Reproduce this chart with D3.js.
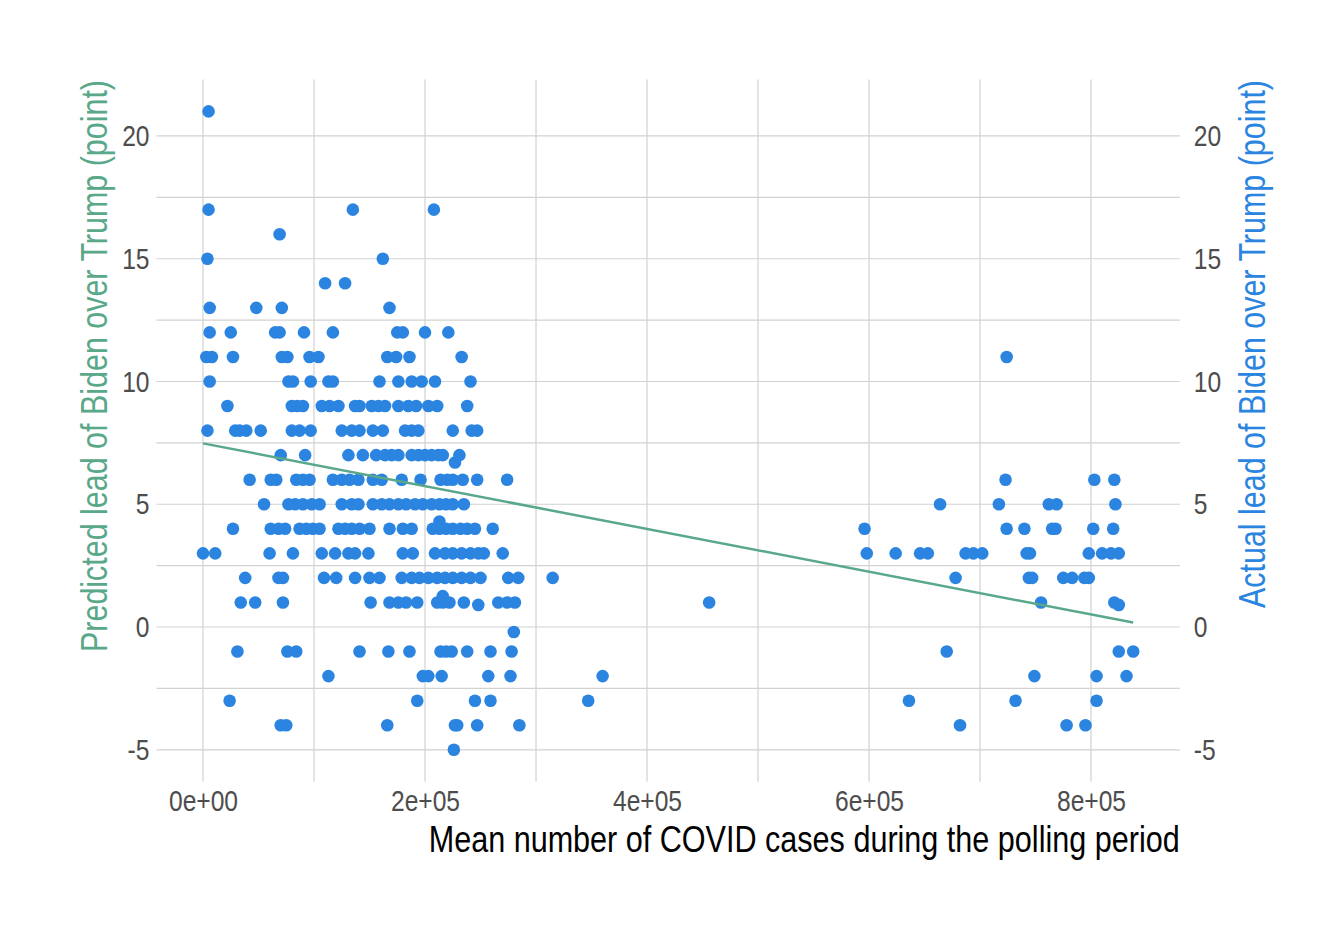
<!DOCTYPE html>
<html>
<head>
<meta charset="utf-8">
<script src="https://cdn.jsdelivr.net/npm/d3@7"></script>
<style>
  body { margin: 0; background: #fff; }
  svg text { font-family: "Liberation Sans Narrow", "Arial Narrow", "Liberation Sans", Arial, sans-serif; }
</style>
</head>
<body>
<svg id="chart" width="1344" height="940"></svg>
<script>

// Actual lead (points) and the mean COVID cases (in thousands) of each poll on that lead
var leadValues = [21, 17, 16, 15, 14, 13, 12, 11, 10, 9, 8, 7, 6.7, 6, 5, 4.3, 4, 3, 2, 1.26, 1, 0.9, -0.2, -1, -2, -3, -4, -5];
var casesByLead = [
    [5],
    [5, 135, 208],
    [69],
    [4, 162],
    [110, 128],
    [6, 48, 71, 168],
    [6, 25, 65, 69, 91, 117, 175, 180, 200, 221],
    [3, 8, 27, 71, 76, 96, 104, 166, 174, 186, 233, 724],
    [6, 77, 81, 97, 113, 117, 159, 176, 188, 197, 209, 241],
    [22, 80, 85, 90, 107, 114, 122, 137, 141, 152, 158, 164, 176, 185, 192, 203, 211, 238],
    [4, 29, 33, 39, 52, 80, 87, 97, 125, 134, 141, 153, 162, 182, 188, 194, 225, 242, 247],
    [70, 92, 131, 144, 156, 164, 170, 176, 188, 194, 200, 206, 212, 216, 231],
    [227],
    [42, 61, 66, 84, 90, 96, 117, 125, 132, 140, 153, 161, 179, 196, 214, 220, 225, 234, 247, 274, 723, 803, 821],
    [55, 77, 83, 90, 98, 105, 125, 134, 140, 153, 161, 168, 176, 183, 191, 198, 206, 213, 219, 225, 235, 664, 717, 762, 769, 822],
    [213],
    [27, 61, 68, 74, 87, 93, 99, 105, 122, 128, 134, 141, 150, 168, 180, 188, 207, 213, 219, 225, 232, 238, 245, 261, 596, 724, 740, 765, 768, 802, 820],
    [0, 11, 60, 81, 107, 119, 131, 137, 149, 180, 189, 209, 218, 225, 233, 241, 248, 253, 270, 598, 624, 646, 653, 687, 694, 702, 742, 745, 798, 810, 818, 825],
    [38, 68, 72, 109, 120, 137, 150, 159, 179, 188, 195, 203, 211, 218, 225, 233, 241, 250, 275, 284, 315, 678, 744, 747, 775, 783, 794, 798],
    [216],
    [34, 47, 72, 151, 168, 176, 183, 193, 211, 216, 222, 235, 266, 274, 281, 456, 755, 821],
    [248, 825],
    [280],
    [31, 76, 84, 141, 167, 186, 214, 219, 224, 238, 259, 278, 670, 825, 838],
    [113, 198, 203, 215, 257, 277, 360, 749, 805, 832],
    [24, 193, 245, 259, 347, 636, 732, 805],
    [70, 75, 166, 227, 229, 247, 285, 682, 778, 795],
    [226]
];

// Fitted line (predicted lead)
var fitCases = [0, 838000];
var fitLead = [7.48, 0.18];

// Ticks
var xTicks = [0, 200000, 400000, 600000, 800000];
var xTickLabels = ["0e+00", "2e+05", "4e+05", "6e+05", "8e+05"];
var xMinorTicks = [100000, 300000, 500000, 700000];
var yTicks = [-5, 0, 5, 10, 15, 20];
var yMinorTicks = [-2.5, 2.5, 7.5, 12.5, 17.5];

var pointColor = "#2b85e0";
var lineColor = "#5aa88a";
var gridColor = "#d2d2d2";
var tickColor = "#4d4d4d";

// No narrow font installed, so squeeze the regular one
var narrow = 0.82;

// Flatten the data
var polls = [];
leadValues.forEach(function(lead, i){
    casesByLead[i].forEach(function(c){
        polls.push({cases: c * 1000, lead: lead});
    });
});

var svg = d3.select("#chart");
svg.append("rect").attr("width", 1344).attr("height", 940).attr("fill", "#fff");

// Scales (ggplot style 5% expansion)
var x = d3.scaleLinear().domain([-41900, 879900]).range([156.5, 1179.7]);
var y = d3.scaleLinear().domain([-6.3, 22.3]).range([781.7, 79.5]);

var grid = svg.append("g");

// Vertical grid lines
grid.selectAll(".vgrid")
    .data(xTicks.concat(xMinorTicks))
    .enter().append("line")
    .attr("x1", function(d){ return x(d); })
    .attr("x2", function(d){ return x(d); })
    .attr("y1", y.range()[1])
    .attr("y2", y.range()[0])
    .attr("stroke", gridColor)
    .attr("stroke-width", 1.2);

// Horizontal grid lines
grid.selectAll(".hgrid")
    .data(yTicks.concat(yMinorTicks))
    .enter().append("line")
    .attr("x1", x.range()[0])
    .attr("x2", x.range()[1])
    .attr("y1", function(d){ return y(d); })
    .attr("y2", function(d){ return y(d); })
    .attr("stroke", gridColor)
    .attr("stroke-width", 1.2);

// Axes (labels only)
var plainNumber = function(d){ return String(d); };

var xAxis = svg.append("g")
    .attr("transform", "translate(0," + 781.7 + ")")
    .call(d3.axisBottom(x).tickValues(xTicks).tickSize(0).tickPadding(8)
        .tickFormat(function(d, i){ return xTickLabels[i]; }));

var yAxisLeft = svg.append("g")
    .attr("transform", "translate(" + 156.5 + ",0)")
    .call(d3.axisLeft(y).tickValues(yTicks).tickSize(0).tickPadding(7).tickFormat(plainNumber));

var yAxisRight = svg.append("g")
    .attr("transform", "translate(" + 1179.7 + ",0)")
    .call(d3.axisRight(y).tickValues(yTicks).tickSize(0).tickPadding(14).tickFormat(plainNumber));

[xAxis, yAxisLeft, yAxisRight].forEach(function(a){
    a.select(".domain").remove();
    a.selectAll("text")
        .attr("fill", tickColor)
        .style("font-size", "30px")
        .each(function(){
            var w = this.getComputedTextLength();
            d3.select(this).attr("textLength", w * narrow).attr("lengthAdjust", "spacingAndGlyphs");
        });
});

// Points
svg.append("g").selectAll("circle")
    .data(polls)
    .enter().append("circle")
    .attr("cx", function(d){ return x(d.cases); })
    .attr("cy", function(d){ return y(d.lead); })
    .attr("r", 6.3)
    .attr("fill", pointColor);

// Fitted line
var line = d3.line()
    .x(function(d){ return x(d[0]); })
    .y(function(d){ return y(d[1]); });

svg.append("path")
    .datum(d3.zip(fitCases, fitLead))
    .attr("d", line)
    .attr("fill", "none")
    .attr("stroke", lineColor)
    .attr("stroke-width", 2.5);

// Axis titles
svg.append("text")
    .attr("x", 1179.7)
    .attr("y", 852)
    .attr("text-anchor", "end")
    .attr("fill", "#000")
    .attr("textLength", 751)
    .attr("lengthAdjust", "spacingAndGlyphs")
    .style("font-size", "37px")
    .text("Mean number of COVID cases during the polling period");

svg.append("text")
    .attr("transform", "translate(107,80) rotate(-90)")
    .attr("text-anchor", "end")
    .attr("fill", lineColor)
    .attr("textLength", 572)
    .attr("lengthAdjust", "spacingAndGlyphs")
    .style("font-size", "37px")
    .text("Predicted lead of Biden over Trump (point)");

svg.append("text")
    .attr("transform", "translate(1265,80) rotate(-90)")
    .attr("text-anchor", "end")
    .attr("fill", pointColor)
    .attr("textLength", 528)
    .attr("lengthAdjust", "spacingAndGlyphs")
    .style("font-size", "37px")
    .text("Actual lead of Biden over Trump (point)");

</script>
</body>
</html>
